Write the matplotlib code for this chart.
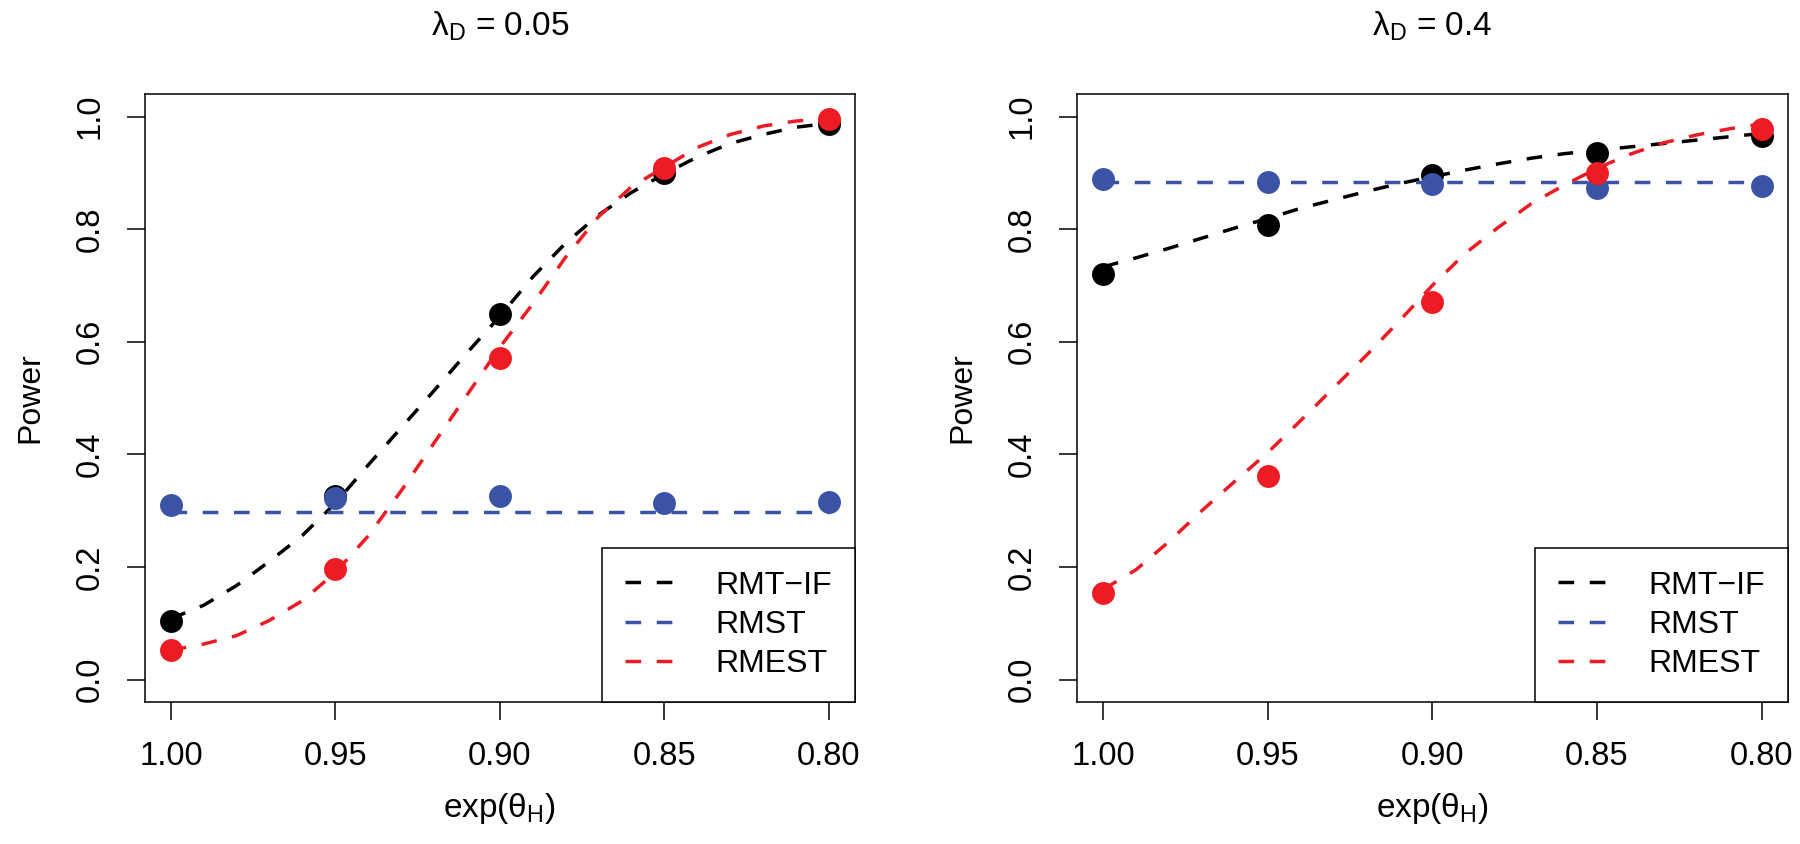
import matplotlib
matplotlib.use('Agg')
import matplotlib.pyplot as plt

# fonts: Helvetica-like text, math parts in the same font
plt.rcParams['font.family'] = ['Liberation Sans', 'DejaVu Sans']
plt.rcParams['mathtext.fontset'] = 'custom'
plt.rcParams['mathtext.rm'] = 'Liberation Sans'
plt.rcParams['mathtext.it'] = 'Liberation Sans:italic'
plt.rcParams['font.size'] = 23

# simulated points
x_pts = [1.00, 0.95, 0.90, 0.85, 0.80]

rmtif_a = [0.104, 0.326, 0.649, 0.900, 0.987]
rmst_a = [0.310, 0.322, 0.326, 0.313, 0.316]
rmest_a = [0.052, 0.197, 0.571, 0.909, 0.996]

rmtif_b = [0.721, 0.808, 0.897, 0.936, 0.966]
rmst_b = [0.889, 0.884, 0.880, 0.873, 0.877]
rmest_b = [0.154, 0.361, 0.670, 0.900, 0.977]

x_curve = [1.00, 0.99, 0.98, 0.97, 0.96, 0.95, 0.94, 0.93, 0.92, 0.91, 0.90,
           0.89, 0.88, 0.87, 0.86, 0.85, 0.84, 0.83, 0.82, 0.81, 0.80]

rmtif_curve_a = [0.108, 0.132, 0.167, 0.210, 0.256, 0.313, 0.381, 0.447, 0.513, 0.580, 0.645,
                 0.715, 0.775, 0.825, 0.865, 0.898, 0.928, 0.952, 0.968, 0.981, 0.988]
rmest_curve_a = [0.052, 0.063, 0.078, 0.105, 0.140, 0.190, 0.255, 0.335, 0.420, 0.505, 0.590,
                 0.667, 0.750, 0.822, 0.875, 0.910, 0.945, 0.968, 0.983, 0.992, 0.996]
rmst_level_a = 0.298

rmtif_curve_b = [0.733, 0.749, 0.766, 0.784, 0.802, 0.819, 0.837, 0.852, 0.867, 0.881, 0.893,
                 0.905, 0.916, 0.926, 0.934, 0.940, 0.946, 0.952, 0.958, 0.964, 0.970]
rmest_curve_b = [0.160, 0.195, 0.245, 0.300, 0.352, 0.403, 0.460, 0.518, 0.576, 0.637, 0.700,
                 0.757, 0.803, 0.845, 0.878, 0.908, 0.933, 0.953, 0.967, 0.978, 0.987]
rmst_level_b = 0.884

titles = [r'$\mathrm{\lambda_D}$ = 0.05', r'$\mathrm{\lambda_D}$ = 0.4']
labels = ['RMT\u2212IF', 'RMST', 'RMEST']
colors = ['black', '#3A53A4', '#ED1C24']

panels = [
    (rmtif_a, rmst_a, rmest_a, rmtif_curve_a, rmst_level_a, rmest_curve_a),
    (rmtif_b, rmst_b, rmest_b, rmtif_curve_b, rmst_level_b, rmest_curve_b),
]

fig = plt.figure(figsize=(18, 8.44), dpi=100)
ax_a = fig.add_axes([0.0803, 0.1682, 0.3947, 0.7204])
ax_b = fig.add_axes([0.5982, 0.1682, 0.3951, 0.7204])

dash = (0, (4.5, 4.5))
for ax, title, pan in zip([ax_a, ax_b], titles, panels):
    p1, p2, p3, c1, lvl, c3 = pan
    # lines then points, black, blue, red
    ax.plot(x_curve, c1, color=colors[0], lw=2.5, ls=dash, dash_capstyle='butt', label=labels[0])
    ax.plot(x_pts, p1, 'o', color=colors[0], ms=16.5, mec='none')
    ax.plot([x_pts[0], x_pts[-1]], [lvl, lvl], color=colors[1], lw=2.5, ls=dash,
            dash_capstyle='butt', label=labels[1])
    ax.plot(x_pts, p2, 'o', color=colors[1], ms=16.5, mec='none')
    ax.plot(x_curve, c3, color=colors[2], lw=2.5, ls=dash, dash_capstyle='butt', label=labels[2])
    ax.plot(x_pts, p3, 'o', color=colors[2], ms=16.5, mec='none')

    ax.set_xlim(1.008, 0.792)
    ax.set_ylim(-0.04, 1.04)
    ax.set_xticks(x_pts)
    ax.set_xticklabels(['%.2f' % v for v in x_pts])
    ax.set_yticks([0.0, 0.2, 0.4, 0.6, 0.8, 1.0])
    ax.set_yticklabels(['0.0', '0.2', '0.4', '0.6', '0.8', '1.0'], rotation=90, va='center')
    ax.tick_params(direction='out', length=13, width=1.1, pad=15, labelsize=23.5)
    for s in ax.spines.values():
        s.set_linewidth(1.1)

    ax.set_title(title, pad=42, fontsize=24)
    ax.set_xlabel(r'exp($\mathrm{\theta_H}$)', fontsize=24, labelpad=14)
    ax.set_ylabel('Power', fontsize=23, labelpad=21)

    leg = ax.legend(loc='lower right', borderaxespad=0, fancybox=False, framealpha=1,
                    edgecolor='black', handlelength=1.47, handletextpad=1.35,
                    borderpad=0.72, labelspacing=0.29, fontsize=23)
    leg.get_frame().set_linewidth(1.1)

fig.savefig('out.png', dpi=100)
